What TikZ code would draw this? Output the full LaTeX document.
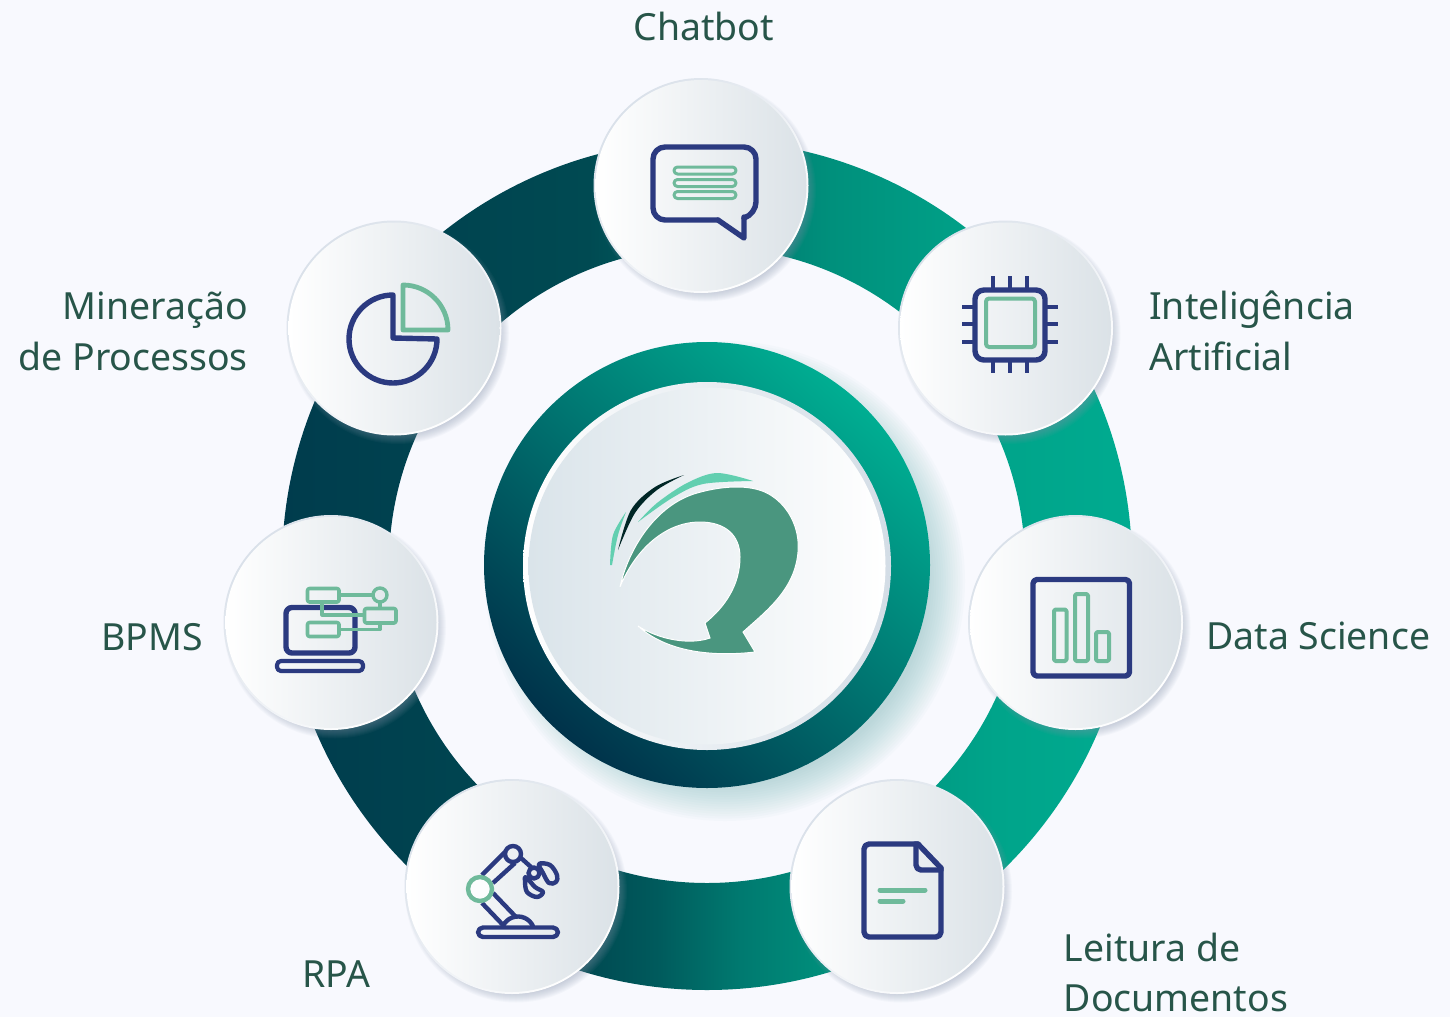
\documentclass[tikz,border=0pt]{standalone}
\usepackage{fontspec}
\setmainfont{Noto Sans}
\definecolor{bgc}{HTML}{F8F9FE}
\definecolor{navy}{HTML}{2B3A80}
\definecolor{leaf}{HTML}{6FBA9B}
\definecolor{txt}{HTML}{275549}
\definecolor{logo}{HTML}{4A967F}
\definecolor{swoosh}{HTML}{62CFB0}
\definecolor{FFrim}{HTML}{DAE1EA}
\definecolor{FFmid}{HTML}{F8F9FB}
\definecolor{FFright}{HTML}{DBE2E7}
\definecolor{shadowc}{HTML}{8C9AB0}
\definecolor{rA}{HTML}{003C4D}
\definecolor{rB}{HTML}{004A52}
\definecolor{rC}{HTML}{005A5C}
\definecolor{rD}{HTML}{007A70}
\definecolor{rE}{HTML}{00907C}
\definecolor{rF}{HTML}{00A48A}
\definecolor{rG}{HTML}{00AB90}
\definecolor{darkA}{HTML}{00324A}
\definecolor{darkB}{HTML}{004A53}
\definecolor{darkC}{HTML}{00AE92}
\definecolor{rimR}{HTML}{D3DDE6}
\definecolor{faceL}{HTML}{DAE4EA}
\definecolor{faceM}{HTML}{F9FAFB}
\definecolor{halo}{HTML}{6FB5B5}
\pgfdeclarehorizontalshading{ringshade}{100bp}{
 color(0bp)=(rA); color(25bp)=(rA); color(43bp)=(rB);
 color(47bp)=(rC); color(52bp)=(rD); color(57.3bp)=(rE);
 color(67bp)=(rF); color(75bp)=(rG); color(100bp)=(rG)}
\tikzset{
 navyline/.style={draw=navy,line width=5.4pt,line join=round,line cap=round},
 leafline/.style={draw=leaf,line width=4pt,line join=round,line cap=round},
 lbl/.style={text=txt,font=\fontsize{37.4}{44}\selectfont,inner sep=0pt},
 bubble/.style={circle,minimum size=211pt,inner sep=0pt,left color=white,middle color=FFmid,right color=FFright},
}
\newcommand{\softshadow}[2]{%
 \foreach \k in {0,...,9}{\fill[shadowc,opacity=0.05] (#1+4,#2+5) circle ({102+\k*1.0});}
 \path[shading=axis,top color=FFrim,bottom color=white,shading angle=45] (#1,#2) circle (107.5);}
\begin{document}
\begin{tikzpicture}[x=1pt,y=-1pt]
\useasboundingbox (0,0) rectangle (1450,1017);
\fill[bgc] (0,0) rectangle (1450,1017);
% ring
\path[shading=ringshade,even odd rule] (707,565) circle (425) (707,565) circle (318);
% centre shadow
\foreach \k in {0,...,15}{\fill[halo,opacity=0.03] (725,581) circle ({204+\k*2.4});}
% centre disc
\path[shading=axis,bottom color=darkA,middle color=darkB,top color=darkC,shading angle=-42] (707,565) circle (223);
\path[shading=axis,left color=white,right color=rimR] (707,566) circle (184);
\path[shading=axis,left color=faceL,middle color=faceM,right color=white] (707,566) circle (178.5);
% logo
\fill[logo,draw=white,line width=1pt] (620,587) .. controls (628,550) and (655,505) .. (697,493)
 .. controls (725,485) and (755,484) .. (772,496)
 .. controls (790,508) and (800,530) .. (798,552)
 .. controls (795,590) and (765,612) .. (743,632)
 -- (755,652)
 .. controls (720,656) and (670,655) .. (638,626)
 .. controls (660,640) and (690,645) .. (710,638)
 -- (705,623)
 .. controls (725,607) and (740,585) .. (740,557)
 .. controls (740,535) and (725,522) .. (700,522)
 .. controls (665,522) and (635,550) .. (620,587) -- cycle;
\fill[swoosh] plot[smooth,tension=0.55] coordinates {(753,481) (717,473) (687,483) (657,503) (638,522)}
 -- plot[smooth,tension=0.55] coordinates {(638,522) (672,498) (703,484) (753,481)} -- cycle;
\fill[swoosh] plot[smooth,tension=0.55] coordinates {(610,565) (613,535) (626,512)}
 -- plot[smooth,tension=0.55] coordinates {(626,512) (618,535) (612,565)} -- cycle;
\fill[black!70!teal] plot[smooth,tension=0.55] coordinates {(618,550) (631,510) (655,487) (684,475)}
 -- plot[smooth,tension=0.55] coordinates {(684,475) (657,490) (635,513) (618,550)} -- cycle;
% bubbles
\softshadow{701}{185.5}
\softshadow{1005.5}{328}
\softshadow{1075.5}{622.5}
\softshadow{897}{886.5}
\softshadow{512}{886.5}
\softshadow{331}{622.5}
\softshadow{394}{328}
\node[bubble] (bChat) at (701,185.5) {};
\node[bubble] (bAI) at (1005.5,328) {};
\node[bubble] (bData) at (1075.5,622.5) {};
\node[bubble] (bDoc) at (897,886.5) {};
\node[bubble] (bRpa) at (512,886.5) {};
\node[bubble] (bBpms) at (331,622.5) {};
\node[bubble] (bMin) at (394,328) {};
% chat icon
\draw[navyline,rounded corners=12pt] (718,220) -- (653,220) -- (653,147) -- (756,147) -- (756,214) -- (744,218);
\draw[navyline] (718,220) -- (744,238) -- (744,217);
\foreach \y in {170.5,183,195}{\draw[leafline,line width=3pt,rounded corners=3.5pt] (674,\y-3.5) rectangle (736,\y+3.5);}
% chip
\draw[navyline,rounded corners=9pt] (975,290) rectangle (1045,360);
\foreach \v in {993,1010,1027}{\draw[navyline,line cap=butt,line width=4.5pt] (\v,276) -- (\v,290) (\v,360) -- (\v,373);}
\foreach \v in {307,324,342}{\draw[navyline,line cap=butt,line width=4.5pt] (962,\v) -- (975,\v) (1045,\v) -- (1058,\v);}
\draw[leafline,rounded corners=3pt] (986,298.5) rectangle (1035,347);
% data science
\draw[navyline,rounded corners=4pt] (1033,579.5) rectangle (1129.5,676);
\draw[leafline,rounded corners=1.5pt] (1054,609.5) rectangle (1066.5,661);
\draw[leafline,rounded corners=1.5pt] (1075,594) rectangle (1088,661);
\draw[leafline,rounded corners=1.5pt] (1096,632) rectangle (1109,661);
% document
\draw[navyline,rounded corners=5pt] (918,844) -- (864,844) -- (864,937) -- (941,937) -- (941,868);
\draw[navyline] (915,844) -- (918,844) -- (941,868);
\draw[navyline,rounded corners=5pt] (916,845) -- (916,870) -- (941,870);
\draw[leafline,line width=5pt] (880,890) -- (925,890);
\draw[leafline,line width=5pt] (880,901) -- (903,901);
% pie
\draw[navyline] (393,295) arc (270:0:44) -- (393,338) -- cycle;
\draw[leafline,line width=4.8pt] (403,285) arc (-90:0:45) -- (403,330) -- cycle;
% RPA
\draw[navyline,line width=4.4pt,rounded corners=5pt] (478,927.5) rectangle (558,937);
\draw[navyline,line width=4.4pt] (503,926) arc (205:335:16.5);
\draw[navyline,line width=4.4pt,line cap=butt] (482,875) -- (505,852) (493,883) -- (515,863) (493,893) -- (516,917) (482,903) -- (503,925);
\draw[navyline,line width=4.4pt] (513,854) circle (8);
\draw[navyline,line width=4.4pt] (521,858) -- (531,867);
\draw[navyline,line width=4.4pt] (534,873) circle (5.5);
\draw[navyline,line width=4.4pt] plot[smooth cycle,tension=0.6] coordinates {(539,864) (550,865) (557,875) (556,882) (549,883) (543,873)};
\draw[navyline,line width=4.4pt] plot[smooth cycle,tension=0.6] coordinates {(526,877) (525,881) (527,892) (537,897) (543,892) (535,887)};
\fill[white!60!bgc] (480,889) circle (11);
\draw[leafline,line width=4.4pt] (480,889) circle (12);
% BPMS
\draw[navyline,rounded corners=6pt] (286,607.5) rectangle (355,653);
\draw[navyline,line width=4.2pt,rounded corners=4pt] (277,661) rectangle (363,671);
\draw[leafline,line width=3.2pt] (322,602) -- (322,615) -- (364,615);
\draw[leafline,line width=3.2pt] (339,595) -- (373,595);
\draw[leafline,line width=3.2pt] (380,602) -- (380,608);
\draw[leafline,line width=3.2pt] (339,629.5) -- (380,629.5) -- (380,623);
\draw[leafline,line width=3.6pt,rounded corners=2pt] (307.5,588.5) rectangle (339,602);
\draw[leafline,line width=3.6pt,rounded corners=2pt] (364.5,608.5) rectangle (396,623);
\draw[leafline,line width=3.6pt,rounded corners=2pt] (307.5,622.5) rectangle (339,636.5);
\draw[leafline,line width=3.4pt] (380,595) circle (7);
% labels
\node[lbl,anchor=base west] (tChat) at (633.5,40) {Chatbot};
\node[lbl,anchor=base west] (tAI1) at (1149,319) {Inteligência};
\node[lbl,anchor=base west] (tAI2) at (1149,370) {Artificial};
\node[lbl,anchor=base west] (tData) at (1206,649) {Data Science};
\node[lbl,anchor=base west] (tDoc1) at (1063.5,961) {Leitura de};
\node[lbl,anchor=base west] (tDoc2) at (1063.5,1011) {Documentos};
\node[lbl,anchor=base west] (tRpa) at (302,987) {RPA};
\node[lbl,anchor=base west] (tBpms) at (101,650) {BPMS};
\node[lbl,anchor=base east] (tMin1) at (248,319) {Mineração};
\node[lbl,anchor=base east] (tMin2) at (248,370) {de Processos};
\end{tikzpicture}
\end{document}
